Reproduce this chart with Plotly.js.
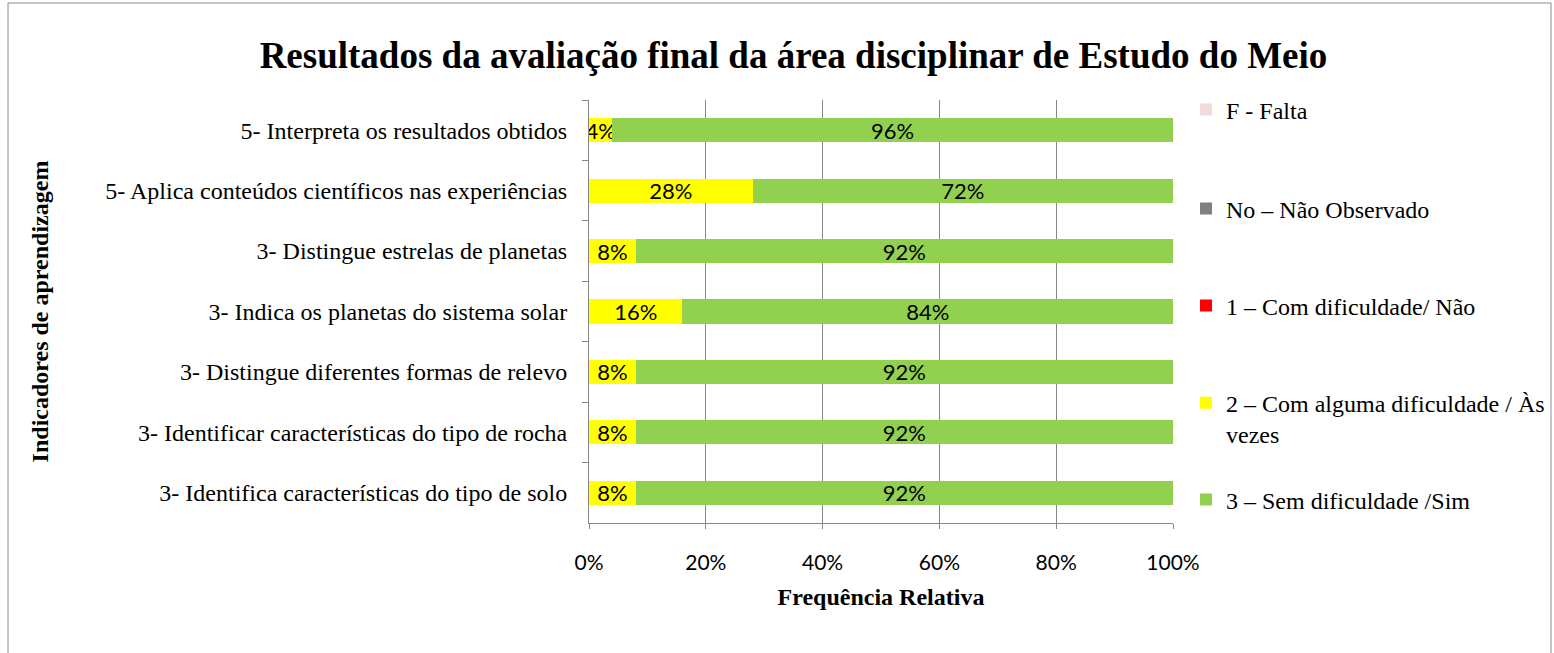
<!DOCTYPE html>
<html><head><meta charset="utf-8">
<script src="https://cdn.plot.ly/plotly-3.0.1.min.js"></script>
<style>html,body{margin:0;padding:0;background:#fff}#chart{width:1554px;height:653px}</style>
</head><body><div id="chart"></div>
<script>
const categories = [
  "5- Interpreta os resultados obtidos",
  "5- Aplica conteúdos científicos nas experiências",
  "3- Distingue estrelas de planetas",
  "3- Indica os planetas do sistema solar",
  "3- Distingue diferentes formas de relevo",
  "3- Identificar características do tipo de rocha",
  "3- Identifica características do tipo de solo"
];
const falta = [0, 0, 0, 0, 0, 0, 0];
const naoObservado = [0, 0, 0, 0, 0, 0, 0];
const comDificuldade = [0, 0, 0, 0, 0, 0, 0];
const algumaDificuldade = [0.04, 0.28, 0.08, 0.16, 0.08, 0.08, 0.08];
const semDificuldade = [0.96, 0.72, 0.92, 0.84, 0.92, 0.92, 0.92];
const seriesNames = [
  "F - Falta",
  "No – Não Observado",
  "1 – Com dificuldade/ Não",
  "2 – Com alguma dificuldade / Às<br>vezes",
  "3 – Sem dificuldade /Sim"
];
const seriesColors = ["#F2DCDB", "#808080", "#FF0000", "#FFFF00", "#92D050"];
const xTickVals = [0, 0.2, 0.4, 0.6, 0.8, 1];
const xTickText = ["0%", "20%", "40%", "60%", "80%", "100%"];
const titleText = "Resultados da avaliação final da área disciplinar de Estudo do Meio";
const xTitle = "Frequência Relativa";
const yTitle = "Indicadores de aprendizagem";

const seriesValues = [falta, naoObservado, comDificuldade, algumaDificuldade, semDificuldade];
const showLabels = [false, false, false, true, true];
const legendIds = ["legend", "legend2", "legend3", "legend4", "legend5"];
const legendY = [0.9764, 0.7423, 0.5130, 0.2468, 0.0544];

const serif = "'Liberation Serif', 'Times New Roman', serif";
const sans = "Lato, Carlito, Calibri, sans-serif";

const traces = seriesValues.map((vals, i) => ({
  type: "bar",
  orientation: "h",
  name: seriesNames[i],
  y: categories,
  x: vals,
  marker: {color: seriesColors[i], line: {width: 0}},
  texttemplate: showLabels[i] ? "%{x:.0%}" : "",
  textposition: showLabels[i] ? "inside" : "none",
  insidetextanchor: "middle",
  textangle: 0,
  constraintext: "none",
  textfont: {family: sans, size: 22, color: "#000"},
  legend: legendIds[i],
  hoverinfo: "x+y+name"
}));

const layout = {
  width: 1554, height: 653,
  paper_bgcolor: "#fff", plot_bgcolor: "#fff",
  margin: {l: 589, r: 381, t: 100, b: 130, autoexpand: false},
  barmode: "stack",
  bargap: 0.6,
  showlegend: true,
  title: {
    text: "<b>" + titleText + "</b>",
    font: {family: serif, size: 37, color: "#000"},
    x: 0.5106, xref: "container", xanchor: "center",
    y: 1 - 55 / 653, yref: "container", yanchor: "middle"
  },
  xaxis: {
    range: [0, 1],
    tickvals: xTickVals, ticktext: xTickText,
    showgrid: true, gridcolor: "#868686", gridwidth: 1,
    zeroline: false,
    showline: true, linecolor: "#868686", linewidth: 1,
    ticks: "outside", ticklen: 5, tickcolor: "#868686",
    ticklabelstandoff: 16,
    tickfont: {family: sans, size: 21, color: "#000"},
    title: {text: "<b>" + xTitle + "</b>", font: {family: serif, size: 24, color: "#000"}, standoff: 14},
    fixedrange: true
  },
  yaxis: {
    type: "category",
    autorange: "reversed",
    showgrid: false, zeroline: false,
    showline: true, linecolor: "#868686", linewidth: 1,
    ticks: "outside", tickson: "boundaries", ticklen: 6, tickcolor: "#868686",
    ticklabelstandoff: 16,
    tickfont: {family: serif, size: 24, color: "#000"},
    title: {text: "<b>" + yTitle + "</b>", font: {family: serif, size: 24, color: "#000"}, standoff: 49},
    fixedrange: true
  },
  shapes: [{
    type: "rect", xref: "paper", yref: "paper",
    x0: (8 - 589) / 584, x1: (1551 - 589) / 584,
    y0: (523 - 700) / 423, y1: (523 - 3) / 423,
    line: {color: "#8c8c8c", width: 1}, fillcolor: "rgba(0,0,0,0)", layer: "below"
  }]
};
legendIds.forEach((id, i) => {
  layout[id] = {
    x: (1186 - 589) / 584, xanchor: "left", xref: "paper",
    y: legendY[i], yanchor: "middle", yref: "paper",
    valign: "top",
    bgcolor: "rgba(0,0,0,0)", borderwidth: 0,
    font: {family: serif, size: 24, color: "#000"}
  };
});

Plotly.newPlot("chart", traces, layout, {displayModeBar: false, staticPlot: true});
</script>
</body></html>
